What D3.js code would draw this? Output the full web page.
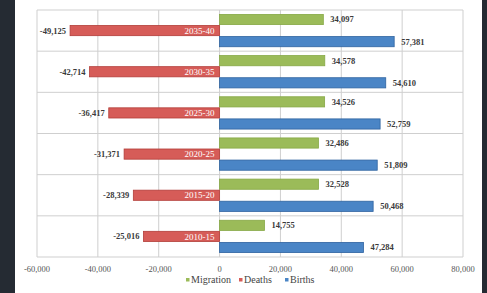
<!DOCTYPE html>
<html><head><meta charset="utf-8">
<script src="https://cdn.jsdelivr.net/npm/d3@7"></script>
<style>html,body{margin:0;padding:0;background:#fff;}svg{display:block;}</style>
</head><body>
<script>
const categories = ["2035-40","2030-35","2025-30","2020-25","2015-20","2010-15"];
const migration = [34097, 34578, 34526, 32486, 32528, 14755];
const deaths = [-49125, -42714, -36417, -31371, -28339, -25016];
const births = [57381, 54610, 52759, 51809, 50468, 47284];
const seriesNames = ["Migration","Deaths","Births"];
const xTicks = [-60000,-40000,-20000,0,20000,40000,60000,80000];

const W = 487, H = 293;
const colors = {Migration:"#9bbb59", Deaths:"#d65c58", Births:"#4a85c6"};
const strokes = {Migration:"#86a845", Deaths:"#b23d39", Births:"#2f63a0"};

const svg = d3.select("body").append("svg").attr("width",W).attr("height",H);
svg.append("rect").attr("x",0).attr("y",0).attr("width",W).attr("height",H).attr("fill","#252b33");
svg.append("rect").attr("x",15).attr("y",0).attr("width",467).attr("height",H).attr("fill","#ffffff");

const plot = {l:37, r:463, t:10, b:257};
const x = d3.scaleLinear().domain([-60000,80000]).range([plot.l, plot.r]);
const y = d3.scaleBand().domain(categories).range([plot.t, plot.b]).padding(0);
const y1 = d3.scaleBand().domain(seriesNames).range([0, y.bandwidth()]).paddingInner(0.08).paddingOuter(0.4);

const grid = svg.append("g");
xTicks.forEach(t => {
  grid.append("line").attr("x1",x(t)).attr("x2",x(t)).attr("y1",plot.t).attr("y2",plot.b)
    .attr("stroke","#cfcfcf").attr("stroke-width",1);
});
categories.forEach(c => {
  grid.append("line").attr("x1",plot.l).attr("x2",plot.r).attr("y1",y(c)).attr("y2",y(c))
    .attr("stroke","#cfcfcf");
});
grid.append("line").attr("x1",plot.l).attr("x2",plot.r).attr("y1",plot.b).attr("y2",plot.b).attr("stroke","#cfcfcf");

const data = categories.map((c,i)=>({cat:c, Migration:migration[i], Deaths:deaths[i], Births:births[i]}));
const locale = d3.formatLocale({decimal:".", thousands:",", grouping:[3], currency:["",""], minus:"-"});
const fmt = locale.format(",");
const font = "'Liberation Serif', 'DejaVu Serif', serif";

const g = svg.append("g");
data.forEach(d => {
  seriesNames.forEach(s => {
    const v = d[s];
    const y0 = y(d.cat) + y1(s);
    const h = y1.bandwidth();
    g.append("rect")
      .attr("x", x(Math.min(0,v))).attr("y", y0)
      .attr("width", Math.abs(x(v)-x(0))).attr("height", h)
      .attr("fill", colors[s]).attr("stroke", strokes[s]).attr("stroke-width",0.8);
    const lbl = g.append("text").attr("y", y0 + h/2).attr("dy","0.35em")
      .attr("font-family",font)
      .attr("font-size",8.5).attr("font-weight","bold").attr("fill","#3a3a3a")
      .text(fmt(v));
    if (v < 0) lbl.attr("x", x(v)-4).attr("text-anchor","end");
    else lbl.attr("x", x(v)+7).attr("text-anchor","start");
    if (s === "Deaths") {
      g.append("text").attr("x", x(0)-5).attr("y", y0 + h/2).attr("dy","0.35em")
        .attr("text-anchor","end")
        .attr("font-family",font)
        .attr("font-size",9).attr("fill","#ffffff")
        .text(d.cat);
    }
  });
});

const xa = svg.append("g");
xTicks.forEach(t => {
  xa.append("text").attr("x", x(t)).attr("y", 272).attr("text-anchor","middle")
    .attr("font-family",font)
    .attr("font-size",8.5).attr("fill","#555").text(fmt(t));
});

const legend = svg.append("g");
const legX = [186, 239, 285];
seriesNames.forEach((s,i) => {
  legend.append("rect").attr("x",legX[i]).attr("y",278).attr("width",3.5).attr("height",3.5).attr("fill",colors[s]);
  legend.append("text").attr("x",legX[i]+5).attr("y",283)
    .attr("font-family",font)
    .attr("font-size",10).attr("fill","#444").text(s);
});
</script>
</body></html>
